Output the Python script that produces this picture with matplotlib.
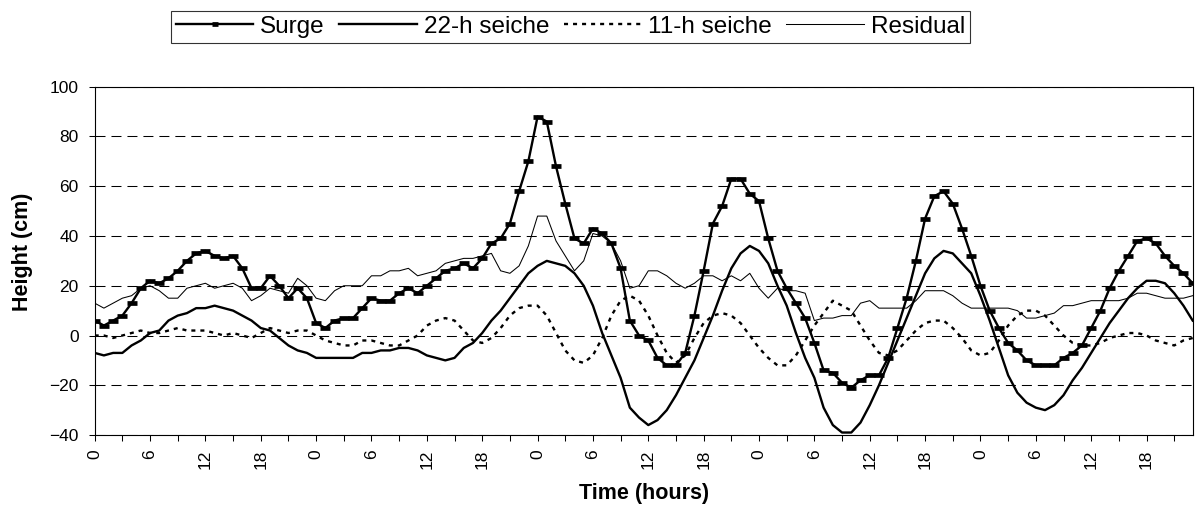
import numpy as np
import matplotlib
matplotlib.use('Agg')
from matplotlib import pyplot as plt

plt.rcParams['font.family'] = ['Liberation Sans', 'DejaVu Sans']
plt.rcParams['lines.scale_dashes'] = False

# hourly values, 5 days (0..119 h)
hours = np.arange(120)

surge = [6, 4, 6, 8, 13, 19, 22, 21, 23, 26, 30, 33, 34, 32, 31, 32, 27, 19, 19, 24, 20, 15, 19, 15,
         5, 3, 6, 7, 7, 11, 15, 14, 14, 17, 19, 17, 20, 23, 26, 27, 29, 27, 31, 37, 39, 45, 58, 70,
         88, 86, 68, 53, 39, 37, 43, 41, 37, 27, 6, 0, -2, -9, -12, -12, -7, 8, 26, 45, 52, 63, 63, 57,
         54, 39, 26, 19, 13, 7, -3, -14, -15, -19, -21, -18, -16, -16, -9, 3, 15, 30, 47, 56, 58, 53, 43, 32,
         20, 10, 3, -3, -6, -10, -12, -12, -12, -9, -7, -4, 3, 10, 19, 26, 32, 38, 39, 37, 32, 28, 25, 21]

seiche_22h = [-7, -8, -7, -7, -4, -2, 1, 2, 6, 8, 9, 11, 11, 12, 11, 10, 8, 6, 3, 2, -1, -4, -6, -7,
              -9, -9, -9, -9, -9, -7, -7, -6, -6, -5, -5, -6, -8, -9, -10, -9, -5, -3, 1, 6, 10, 15, 20, 25,
              28, 30, 29, 28, 25, 20, 12, 1, -8, -17, -29, -33, -36, -34, -30, -24, -17, -10, -1, 8, 18, 27, 33, 36,
              34, 29, 20, 12, 1, -9, -17, -29, -36, -39, -39, -35, -28, -20, -11, -2, 7, 16, 25, 31, 34, 33, 29, 25,
              16, 6, -5, -16, -23, -27, -29, -30, -28, -24, -18, -13, -7, -1, 5, 10, 15, 19, 22, 22, 21, 17, 12, 6]

seiche_11h = [0, 0, -1, 0, 1, 2, 1, 1, 2, 3, 2, 2, 2, 1, 0, 1, 0, -1, 1, 3, 2, 1, 2, 2,
              0, -2, -3, -4, -4, -2, -2, -3, -4, -4, -2, 0, 4, 6, 7, 6, 2, -2, -3, -1, 3, 8, 11, 12,
              12, 8, 1, -6, -10, -11, -8, -1, 8, 14, 16, 14, 8, 0, -7, -11, -8, -1, 5, 8, 9, 8, 5, 0,
              -5, -9, -12, -12, -8, -2, 4, 9, 14, 12, 10, 4, -2, -7, -8, -6, -2, 2, 5, 6, 6, 3, -1, -6,
              -8, -7, -2, 4, 8, 10, 10, 8, 4, 0, -3, -4, -4, -3, -1, 0, 1, 1, 0, -2, -3, -4, -2, -1]

residual = [13, 11, 13, 15, 16, 19, 20, 18, 15, 15, 19, 20, 21, 19, 20, 21, 19, 14, 16, 19, 18, 17, 23, 20,
            15, 14, 18, 20, 20, 20, 24, 24, 26, 26, 27, 24, 25, 26, 29, 30, 31, 31, 32, 33, 26, 25, 28, 36,
            48, 48, 38, 32, 26, 30, 41, 40, 37, 30, 19, 20, 26, 26, 24, 21, 19, 21, 24, 24, 22, 24, 22, 25,
            19, 15, 19, 18, 18, 17, 6, 7, 7, 8, 8, 13, 14, 11, 11, 11, 11, 14, 18, 18, 18, 16, 13, 11,
            11, 11, 11, 11, 10, 7, 7, 8, 9, 12, 12, 13, 14, 14, 14, 14, 15, 17, 17, 16, 15, 15, 15, 16]

tick_hours = list(range(0, 120, 6))
tick_labels = [str(h % 24) for h in tick_hours]
minor_hours = list(range(3, 120, 6))
y_ticks = list(range(-40, 101, 20))

fig = plt.figure(figsize=(12, 5.11), dpi=100)
ax = fig.add_axes([0.0789, 0.1487, 0.9150, 0.6816])

ax.plot(hours, surge, color='black', lw=1.7, marker='_', ms=7, mew=3.4,
        label='Surge', zorder=5)
ax.plot(hours, seiche_22h, color='black', lw=1.7, label='22-h seiche', zorder=4)
ax.plot(hours, seiche_11h, color='black', lw=1.7, dashes=(2.9, 3.6),
        label='11-h seiche', zorder=3)
ax.plot(hours, residual, color='black', lw=0.75, label='Residual', zorder=3)

ax.set_xlim(0, 119)
ax.set_ylim(-40, 100)
ax.set_yticks(y_ticks)
ax.set_xticks(tick_hours)
ax.set_xticklabels(tick_labels, rotation=90)
ax.set_xticks(minor_hours, minor=True)

ax.grid(axis='y', color='black', lw=0.75, linestyle=(0, (7.2, 4.3)), zorder=1)
ax.set_axisbelow(True)

ax.tick_params(axis='both', which='both', direction='out', length=4.5, width=0.75,
               color='black', labelsize=12.5)
ax.tick_params(axis='x', pad=6)
ax.tick_params(axis='y', pad=7)

for s in ax.spines.values():
    s.set_linewidth(0.8)
    s.set_color('black')

ax.set_xlabel('Time (hours)', fontsize=15.5, fontweight='bold', va='center')
ax.xaxis.set_label_coords(0.5, -0.169)
ax.set_ylabel('Height (cm)', fontsize=15.5, fontweight='bold', va='center')
ax.yaxis.set_label_coords(-0.0653, 0.526)

handles, labels = ax.get_legend_handles_labels()
leg = fig.legend(handles, labels, loc='center', bbox_to_anchor=(570.3 / 1200, 1 - 26.65 / 511),
                 ncol=4, frameon=True, fancybox=False, edgecolor='black', fontsize=17.5,
                 handlelength=3.2, handletextpad=0.27, columnspacing=0.6, borderpad=0.2,
                 numpoints=1, markerscale=0.7)
leg.get_frame().set_linewidth(0.8)

fig.savefig('out.png', dpi=100)
